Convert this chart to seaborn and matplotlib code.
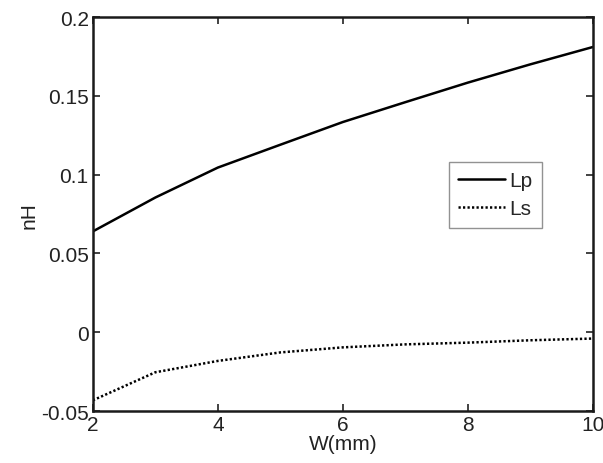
import matplotlib

matplotlib.use("Agg")

import matplotlib.pyplot as plt
import pandas as pd
import seaborn as sns

# values
w_mm = [2, 3, 4, 5, 6, 7, 8, 9, 10]
lp_nh = [0.064, 0.0855, 0.1045, 0.119, 0.1334, 0.146, 0.1584, 0.170, 0.181]
ls_nh = [-0.0432, -0.0254, -0.0182, -0.0128, -0.0096, -0.0077, -0.0066, -0.0051, -0.004]

df = pd.DataFrame({"W": w_mm * 2, "nH": lp_nh + ls_nh, "series": ["Lp"] * len(w_mm) + ["Ls"] * len(w_mm)})

sns.set_style("ticks")
plt.rcParams["font.family"] = ["Liberation Sans", "DejaVu Sans"]

fig = plt.figure(figsize=(6.03, 4.64), dpi=100)
ax = fig.add_axes([0.154, 0.112, 0.829, 0.849])

sns.lineplot(
    data=df, x="W", y="nH", hue="series", style="series",
    palette={"Lp": "black", "Ls": "black"},
    dashes={"Lp": "", "Ls": (0.9, 0.9)},
    linewidth=1.8, ax=ax,
)

ax.set_xlim(2, 10)
ax.set_ylim(-0.05, 0.2)
ax.set_xticks([2, 4, 6, 8, 10])
ax.set_yticks([-0.05, 0, 0.05, 0.1, 0.15, 0.2])
ax.set_yticklabels(["-0.05", "0", "0.05", "0.1", "0.15", "0.2"])
ax.tick_params(direction="in", top=True, right=True, labelsize=15, length=5, width=1.2, colors="#222222", pad=3)
for s in ax.spines.values():
    s.set_linewidth(1.8)
    s.set_color("#1a1a1a")
ax.set_xlabel("W(mm)", fontsize=15, color="#222222", labelpad=0)
ax.set_ylabel("nH", fontsize=15, color="#222222", labelpad=2)

leg = ax.legend(
    loc="upper right", bbox_to_anchor=(0.898, 0.633), fontsize=15,
    frameon=True, fancybox=False, edgecolor="#777777", handlelength=2.25,
    handletextpad=0.2, borderpad=0.45, labelspacing=0.45, borderaxespad=0,
)
leg.get_frame().set_linewidth(1.0)

fig.savefig("out.png", dpi=100)
